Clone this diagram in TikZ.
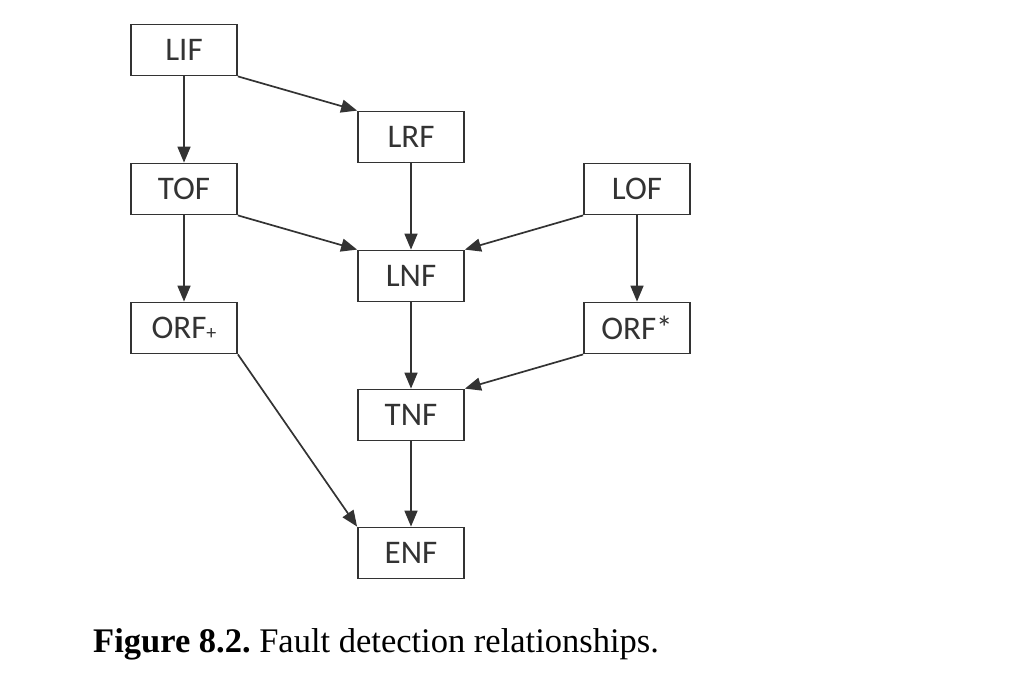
\documentclass[tikz,border=0pt]{standalone}
\usepackage{fontspec}
\setmainfont{Liberation Serif}
\newfontfamily\boxfont{Carlito}
\usetikzlibrary{arrows.meta}
\definecolor{ink}{HTML}{333333}
\begin{document}
\begin{tikzpicture}[x=1pt,y=-1pt,
  fbox/.style={draw=ink,line width=1.8pt,minimum width=106pt,minimum height=51pt,inner sep=0pt,
    text=ink,font=\boxfont\fontsize{33}{33}\selectfont},
  arr/.style={draw=ink,line width=1.7pt,-{Triangle[length=16pt,width=13pt]}}]
\useasboundingbox (0,0) rectangle (1024,687);
\node[fbox] (LIF) at (184,50) {LIF};
\node[fbox] (LRF) at (411,137) {LRF};
\node[fbox] (TOF) at (184,189) {TOF};
\node[fbox] (LOF) at (637,189) {LOF};
\node[fbox] (LNF) at (411,276) {LNF};
\node[fbox] (ORFp) at (184,328) {ORF\raisebox{-1pt}{\fontsize{20}{20}\selectfont+}};
\node[fbox] (ORFs) at (637,328) {ORF*};
\node[fbox] (TNF) at (411,415) {TNF};
\node[fbox] (ENF) at (411,553) {ENF};
\draw[arr] (LIF) -- (TOF);
\draw[arr] (LIF.south east) -- (LRF.north west);
\draw[arr] (LRF) -- (LNF);
\draw[arr] (TOF.south east) -- (LNF.north west);
\draw[arr] (LOF.south west) -- (LNF.north east);
\draw[arr] (TOF) -- (ORFp);
\draw[arr] (LOF) -- (ORFs);
\draw[arr] (LNF) -- (TNF);
\draw[arr] (ORFs.south west) -- (TNF.north east);
\draw[arr] (ORFp.south east) -- (ENF.north west);
\draw[arr] (TNF) -- (ENF);
\node[anchor=base west,inner sep=0pt,font=\fontsize{34.5}{35}\selectfont] (cap) at (93,652)
  {\frenchspacing\textbf{Figure 8.2.} Fault detection relationships.};
\end{tikzpicture}
\end{document}
